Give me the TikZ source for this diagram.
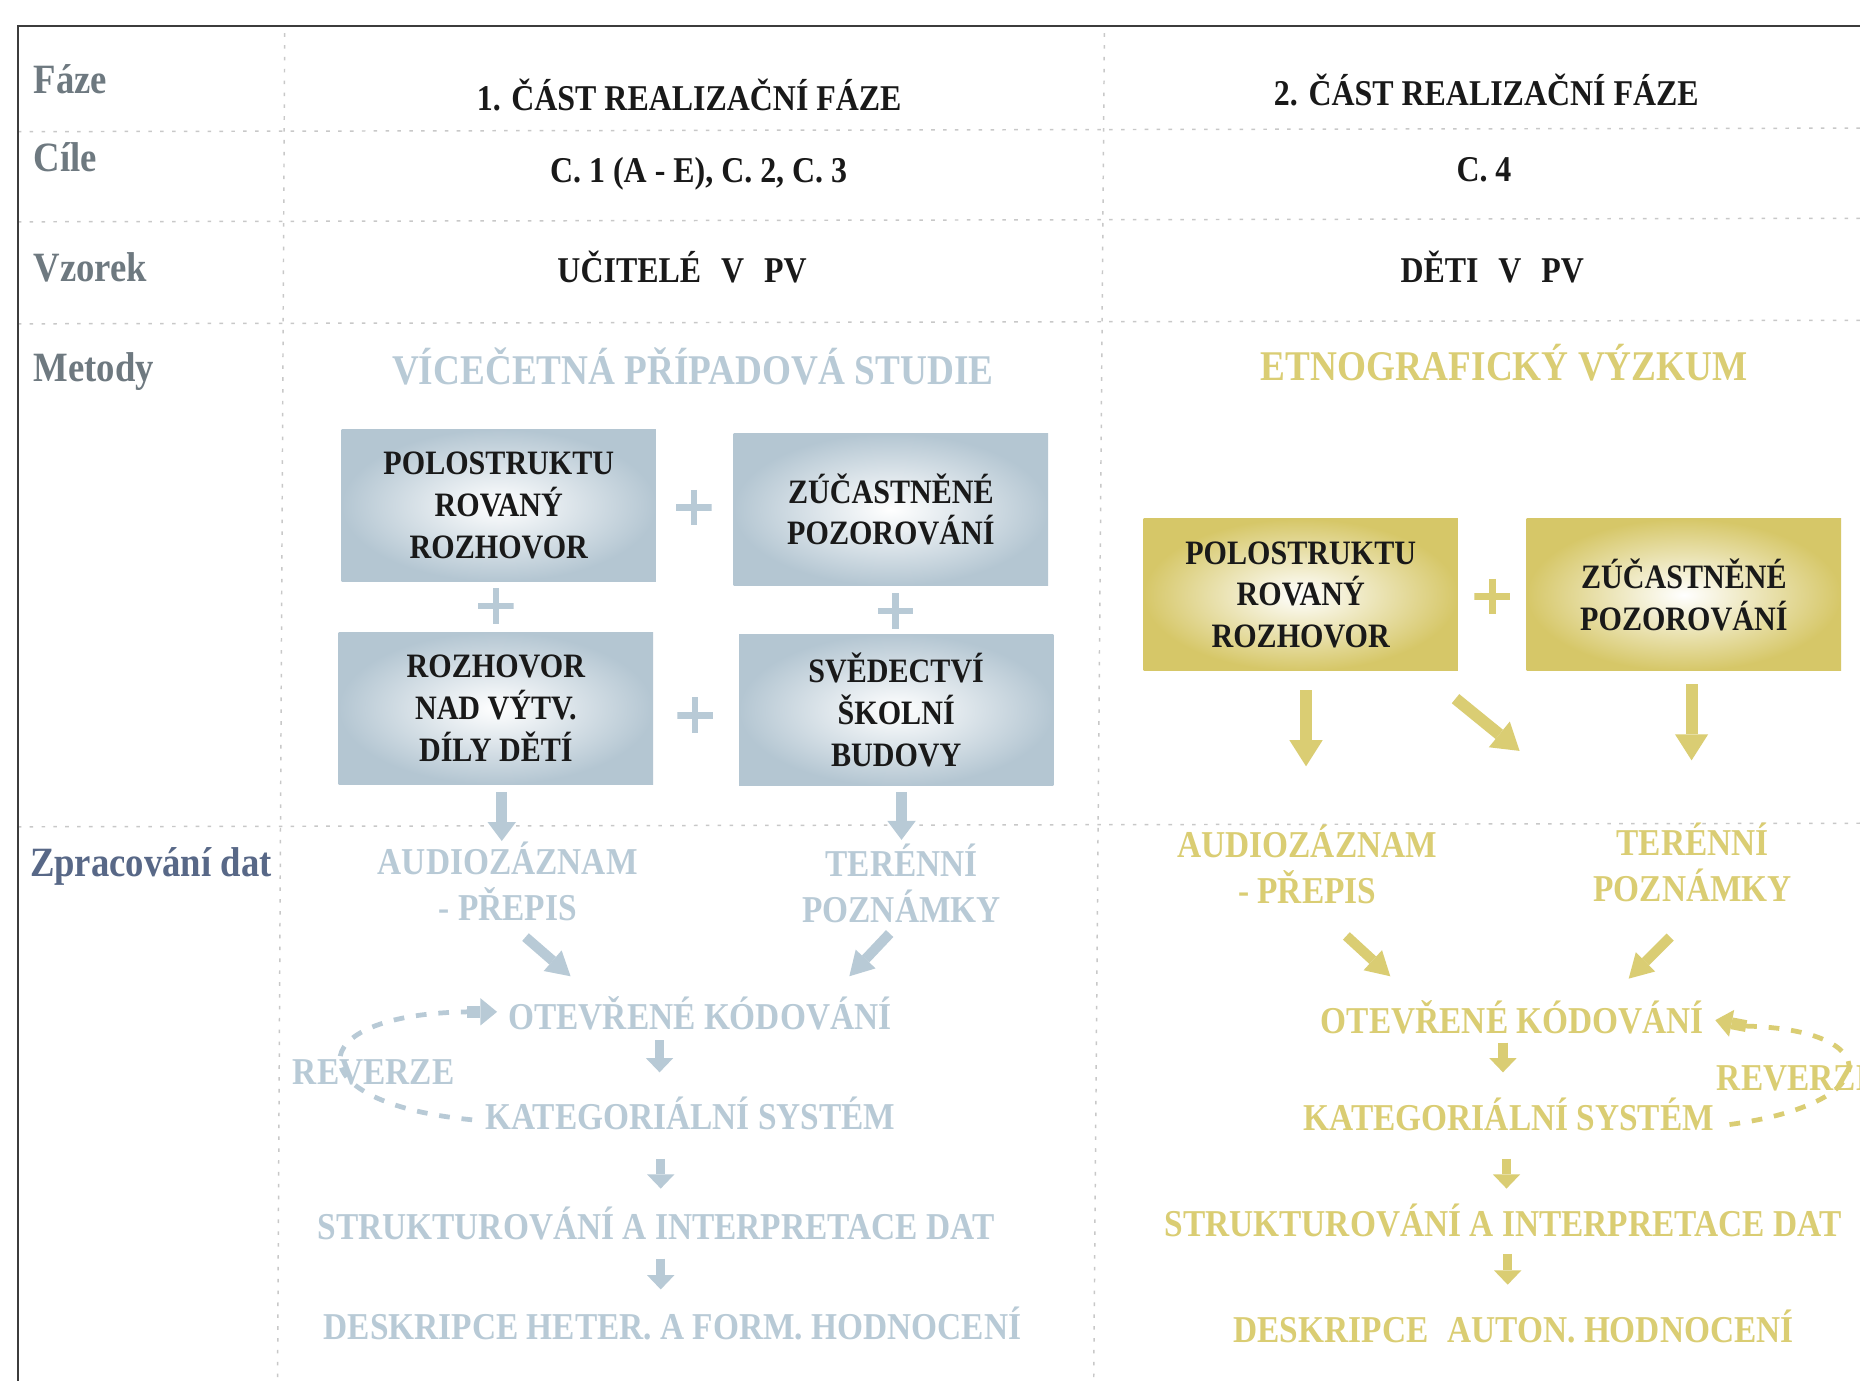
\documentclass[tikz,border=0pt]{standalone}
\usepackage{fontspec}
\setmainfont{Liberation Serif}[FakeStretch=0.88]
\usetikzlibrary{arrows.meta,calc}
\definecolor{lblgray}{RGB}{110,121,128}
\definecolor{lblblue}{RGB}{88,104,135}
\definecolor{ltblue}{RGB}{184,202,214}
\definecolor{boxblue}{RGB}{180,198,210}
\definecolor{gold}{RGB}{218,205,115}
\definecolor{boxgold}{RGB}{214,199,104}
\definecolor{ink}{RGB}{25,25,25}
\definecolor{framecol}{RGB}{60,60,60}
\definecolor{dotcol}{RGB}{200,200,200}
\begin{document}
\begin{tikzpicture}[x=0.2mm,y=-0.2mm,
  rowlab/.style={font=\fontsize{20}{24}\selectfont\bfseries, text=lblgray, anchor=base west, inner sep=0},
  head/.style={font=\fontsize{17.4}{21}\selectfont\bfseries, text=ink, anchor=base, inner sep=0},
  meth/.style={font=\fontsize{20.3}{24}\selectfont\bfseries, anchor=base, inner sep=0},
  flow/.style={font=\fontsize{18.2}{22}\selectfont\bfseries, anchor=base, inner sep=0, align=center},
  flowtwo/.style={flow, anchor=center},
  mbox/.style={minimum width=53mm, minimum height=25.6mm, inner sep=0, align=center,
    font=\fontsize{16.4}{20}\selectfont\bfseries, text=ink},
  bluebox/.style={mbox, shading=radial, inner color=white, outer color=boxblue},
  goldbox/.style={mbox, shading=radial, inner color=white, outer color=boxgold},
  bplus/.style={minimum size=6mm, inner sep=0, path picture={
    \draw[ltblue, line width=1.1mm] (path picture bounding box.north) -- (path picture bounding box.south)
      (path picture bounding box.west) -- (path picture bounding box.east);}},
  gplus/.style={minimum size=6mm, inner sep=0, path picture={
    \draw[gold, line width=1.1mm] (path picture bounding box.north) -- (path picture bounding box.south)
      (path picture bounding box.west) -- (path picture bounding box.east);}},
  bigarr/.style={line width=2mm, -{Triangle[width=5.6mm,length=4.4mm,line width=0pt]}},
  boxarr/.style={line width=1.8mm, -{Triangle[width=4.8mm,length=3.2mm,line width=0pt]}},
  diagarr/.style={line width=1.7mm, -{Triangle[width=4.6mm,length=4mm,line width=0pt]}},
  smallarr/.style={line width=1.6mm, -{Triangle[width=4.6mm,length=2.4mm,line width=0pt]}},
  revline/.style={line width=0.8mm, dash pattern=on 1.8mm off 2mm},
  revhead/.style={line width=2mm, -{Triangle[width=4.6mm,length=2.8mm,line width=0pt]}},
  dotline/.style={dotcol, line width=0.25mm, dash pattern=on 0.6mm off 1.4mm}
]
\useasboundingbox (0,0) rectangle (1568,1164);
\clip (0,0) rectangle (1568,1164);
\fill[white] (0,0) rectangle (1568,1164);

% grid
\draw[dotline] (15,111) -- (1568,108);
\draw[dotline] (15,187) -- (1568,184);
\draw[dotline] (15,273) -- (1568,270);
\draw[dotline] (15,697) -- (1568,694);
\draw[dotline] (240,28) -- (234,1164);
\draw[dotline] (931,28) -- (922,1164);
\draw[framecol, line width=0.35mm] (15,1170) -- (15,22) -- (1575,22);

% row labels
\node[rowlab] (lFaze) at (28,79) {Fáze};
\node[rowlab] (lCile) at (28,145) {Cíle};
\node[rowlab] (lVzorek) at (28,237) {Vzorek};
\node[rowlab] (lMetody) at (28,322) {Metody};
\node[rowlab, text=lblblue] (lZprac) at (25,739) {Zpracování dat};

% headers
\node[head] (h1) at (581,93) {1. ČÁST REALIZAČNÍ FÁZE};
\node[head] (h2) at (1253,89) {2. ČÁST REALIZAČNÍ FÁZE};
\node[head] (c1) at (589,154) {C. 1 (A - E), C. 2, C. 3};
\node[head] (c2) at (1251,153) {C. 4};
\node[head] (s1) at (575,238) {UČITELÉ\hspace{0.55em}V\hspace{0.55em}PV};
\node[head] (s2) at (1258,238) {DĚTI\hspace{0.55em}V\hspace{0.55em}PV};

% methods
\node[meth, text=ltblue] (m1) at (584,324) {VÍCEČETNÁ PŘÍPADOVÁ STUDIE};
\node[meth, text=gold] (m2) at (1268,321) {ETNOGRAFICKÝ VÝZKUM};

% blue boxes
\node[bluebox] (b1) at (420.5,426) {POLOSTRUKTU\\ROVANÝ\\ROZHOVOR};
\node[bluebox] (b2) at (751,429.5) {ZÚČASTNĚNÉ\\POZOROVÁNÍ};
\node[bluebox] (b3) at (418,597) {ROZHOVOR\\NAD VÝTV.\\DÍLY DĚTÍ};
\node[bluebox] (b4) at (755.5,598.5) {SVĚDECTVÍ\\ŠKOLNÍ\\BUDOVY};
\node[bplus] (p12) at (585,428) {};
\node[bplus] (p13) at (418,511) {};
\node[bplus] (p24) at (755,515) {};
\node[bplus] (p34) at (586,603) {};

% gold boxes
\node[goldbox] (g1) at (1096.5,501.5) {POLOSTRUKTU\\ROVANÝ\\ROZHOVOR};
\node[goldbox] (g2) at (1419.5,501.5) {ZÚČASTNĚNÉ\\POZOROVÁNÍ};
\node[gplus] (gp) at (1258,503) {};

% blue flow
\node[flowtwo, text=ltblue] (audB) at (428,743) {AUDIOZÁZNAM\\- PŘEPIS};
\node[flowtwo, text=ltblue] (terB) at (760,745) {TERÉNNÍ\\POZNÁMKY};
\node[flow, text=ltblue] (otkB) at (590,868) {OTEVŘENÉ KÓDOVÁNÍ};
\node[flow, text=ltblue] (revB) at (315,914) {REVERZE};
\node[flow, text=ltblue] (katB) at (582,952) {KATEGORIÁLNÍ SYSTÉM};
\node[flow, text=ltblue] (strB) at (553,1045) {STRUKTUROVÁNÍ A INTERPRETACE DAT};
\node[flow, text=ltblue] (desB) at (567,1129) {DESKRIPCE HETER. A FORM. HODNOCENÍ};

% gold flow
\node[flowtwo, text=gold] (audG) at (1102,729) {AUDIOZÁZNAM\\- PŘEPIS};
\node[flowtwo, text=gold] (terG) at (1427,727) {TERÉNNÍ\\POZNÁMKY};
\node[flow, text=gold] (otkG) at (1275,871) {OTEVŘENÉ KÓDOVÁNÍ};
\node[flow, text=gold, anchor=base west] (revG) at (1447,919) {REVERZE};
\node[flow, text=gold] (katG) at (1272,953) {KATEGORIÁLNÍ SYSTÉM};
\node[flow, text=gold] (strG) at (1267,1042) {STRUKTUROVÁNÍ A INTERPRETACE DAT};
\node[flow, text=gold] (desG) at (1276,1132) {DESKRIPCE\hspace{0.5em}AUTON. HODNOCENÍ};

% blue arrows
\coordinate (ab3s) at (423,668); \coordinate (ab3e) at (423,709);
\coordinate (ab4s) at (760,668); \coordinate (ab4e) at (760,708);
\draw[ltblue, boxarr] (ab3s) -- (ab3e);
\draw[ltblue, boxarr] (ab4s) -- (ab4e);
\coordinate (dB1s) at (443,790); \coordinate (dB1e) at (481,823);
\coordinate (dB2s) at (750,787); \coordinate (dB2e) at (716,823);
\draw[ltblue, diagarr] (dB1s) -- (dB1e);
\draw[ltblue, diagarr] (dB2s) -- (dB2e);
\coordinate (sB1s) at (556,877); \coordinate (sB1e) at (556,904);
\coordinate (sB2s) at (557,977); \coordinate (sB2e) at (557,1002);
\coordinate (sB3s) at (557,1061); \coordinate (sB3e) at (557,1087);
\draw[ltblue, smallarr] (sB1s) -- (sB1e);
\draw[ltblue, smallarr] (sB2s) -- (sB2e);
\draw[ltblue, smallarr] (sB3s) -- (sB3e);
\coordinate (rB0) at (398,944); \coordinate (rB1) at (394,853); \coordinate (rB2) at (419,853);
\draw[ltblue, revline] (rB0) .. controls (250,930) and (250,855) .. (rB1);
\draw[ltblue, revhead] (rB1) -- (rB2);

% gold arrows
\coordinate (ag1s) at (1101,582); \coordinate (ag1e) at (1101,646);
\coordinate (ag2s) at (1227,589); \coordinate (ag2e) at (1281,633);
\coordinate (ag3s) at (1426,577); \coordinate (ag3e) at (1426,641);
\draw[gold, bigarr] (ag1s) -- (ag1e);
\draw[gold, bigarr] (ag2s) -- (ag2e);
\draw[gold, bigarr] (ag3s) -- (ag3e);
\coordinate (dG1s) at (1135,789); \coordinate (dG1e) at (1172,823);
\coordinate (dG2s) at (1408,790); \coordinate (dG2e) at (1373,825);
\draw[gold, diagarr] (dG1s) -- (dG1e);
\draw[gold, diagarr] (dG2s) -- (dG2e);
\coordinate (sG1s) at (1267,879); \coordinate (sG1e) at (1267,904);
\coordinate (sG2s) at (1270,977); \coordinate (sG2e) at (1270,1002);
\coordinate (sG3s) at (1271,1057); \coordinate (sG3e) at (1271,1083);
\draw[gold, smallarr] (sG1s) -- (sG1e);
\draw[gold, smallarr] (sG2s) -- (sG2e);
\draw[gold, smallarr] (sG3s) -- (sG3e);
\coordinate (rG0) at (1458,948); \coordinate (rG1) at (1472,865); \coordinate (rG2) at (1446,860);
\draw[gold, revline] (rG0) .. controls (1590,930) and (1590,868) .. (rG1);
\draw[gold, revhead] (rG1) -- (rG2);
\end{tikzpicture}
\end{document}
